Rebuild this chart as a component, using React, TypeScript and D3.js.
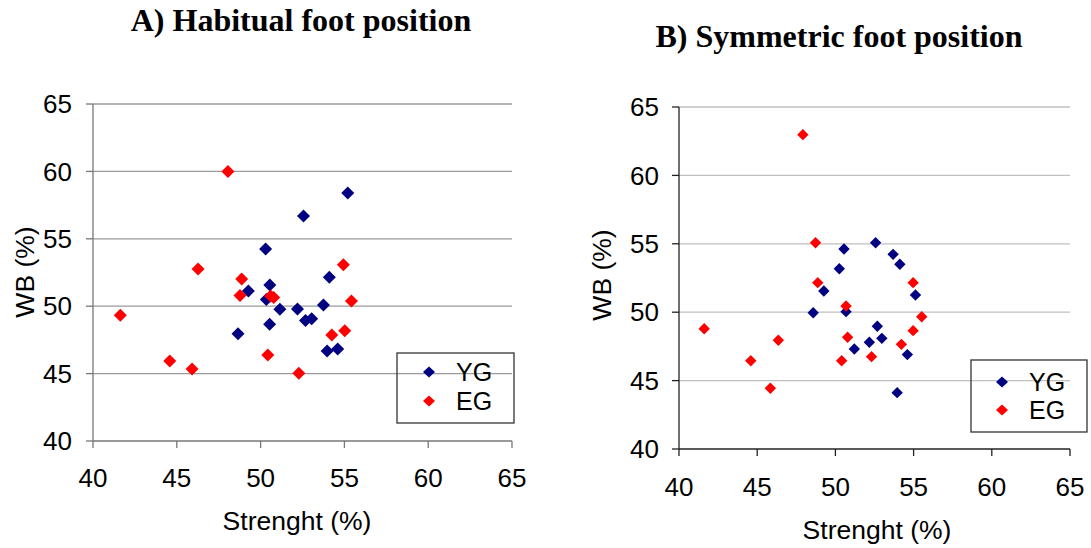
import React from "react";
import * as d3 from "d3";

// ---- Data ----
const xTicks = [40, 45, 50, 55, 60, 65];
const yTicks = [40, 45, 50, 55, 60, 65];
const seriesNames = ["YG", "EG"];
const seriesColors = ["#000080", "#FF0000"];

const habitualYG: [number, number][] = [
  [55.2, 58.4], [52.56, 56.7], [50.3, 54.24], [54.1, 52.14], [50.55, 51.57],
  [49.27, 51.13], [50.34, 50.5], [51.15, 49.77], [52.2, 49.79], [52.68, 48.93],
  [53.05, 49.07], [53.75, 50.09], [50.54, 48.66], [48.65, 47.95], [53.97, 46.68],
  [54.6, 46.82],
];
const habitualEG: [number, number][] = [
  [48.05, 60.0], [46.27, 52.76], [54.94, 53.08], [48.87, 52.02], [48.77, 50.8],
  [50.6, 50.75], [50.78, 50.65], [55.42, 50.39], [54.25, 47.86], [55.02, 48.18],
  [50.43, 46.38], [44.58, 45.93], [45.91, 45.34], [52.28, 45.02], [41.63, 49.32],
];
const symmetricYG: [number, number][] = [
  [50.55, 54.62], [50.25, 53.18], [52.57, 55.08], [53.69, 54.23], [54.12, 53.5],
  [49.26, 51.55], [55.12, 51.26], [48.58, 49.96], [50.68, 50.04], [51.21, 47.31],
  [52.17, 47.8], [52.68, 48.97], [52.97, 48.09], [54.6, 46.9], [53.95, 44.12],
];
const symmetricEG: [number, number][] = [
  [47.92, 62.98], [48.73, 55.08], [48.87, 52.16], [54.97, 52.16], [50.68, 50.45],
  [55.52, 49.67], [41.61, 48.79], [46.35, 47.95], [44.59, 46.45], [45.84, 44.44],
  [50.78, 48.17], [50.4, 46.45], [52.31, 46.75], [54.22, 47.65], [54.97, 48.65],
];

const titles = ["A) Habitual foot position", "B) Symmetric foot position"];
const xTitle = "Strenght (%)";
const yTitle = "WB (%)";

type PanelCfg = {
  title: string;
  titleX: number;
  titleY: number;
  left: number;
  right: number;
  top: number;
  bottom: number;
  series: [number, number][][];
  gridColor: string;
  axisColor: string;
  tickLen: number;
  yLabelX: number;
  xLabelY: number;
  xTitleX: number;
  xTitleY: number;
  yTitleX: number;
  yTitleY: number;
  marker: number;
  legend: { x: number; y: number; w: number; h: number; mx: number; tx: number; y1: number; y2: number };
};

const diamond = (x: number, y: number, h: number, v: number = h) =>
  `M${x},${y - v}L${x + h},${y}L${x},${y + v}L${x - h},${y}Z`;

const sans = "'Liberation Sans', Arial, sans-serif";
const serif = "'Liberation Serif', 'Times New Roman', serif";

function Panel({ cfg }: { cfg: PanelCfg }) {
  const x = d3.scaleLinear().domain([40, 65]).range([cfg.left, cfg.right]);
  const y = d3.scaleLinear().domain([40, 65]).range([cfg.bottom, cfg.top]);
  const L = cfg.legend;
  return (
    <g>
      <text x={cfg.titleX} y={cfg.titleY} textAnchor="middle" fontFamily={serif} fontWeight="bold" fontSize={32}>
        {cfg.title}
      </text>
      {yTicks.slice(1).map((t) => (
        <line key={"g" + t} x1={x(40)} x2={x(65)} y1={y(t)} y2={y(t)} stroke={cfg.gridColor} strokeWidth={1.3} />
      ))}
      {/* axes */}
      <line x1={x(40)} x2={x(40)} y1={y(40)} y2={y(65)} stroke={cfg.axisColor} strokeWidth={1.3} />
      <line x1={x(40)} x2={x(65)} y1={y(40)} y2={y(40)} stroke={cfg.axisColor} strokeWidth={1.3} />
      {yTicks.map((t) => (
        <g key={"y" + t}>
          <line x1={x(40) - cfg.tickLen} x2={x(40)} y1={y(t)} y2={y(t)} stroke={cfg.axisColor} strokeWidth={1.3} />
          <text x={cfg.yLabelX} y={y(t)} dy="0.35em" textAnchor="end" fontFamily={sans} fontSize={26}>
            {t}
          </text>
        </g>
      ))}
      {xTicks.map((t) => (
        <g key={"x" + t}>
          <line x1={x(t)} x2={x(t)} y1={y(40)} y2={y(40) + cfg.tickLen} stroke={cfg.axisColor} strokeWidth={1.3} />
          <text x={x(t)} y={cfg.xLabelY} dy="0.35em" textAnchor="middle" fontFamily={sans} fontSize={26}>
            {t}
          </text>
        </g>
      ))}
      <text x={cfg.xTitleX} y={cfg.xTitleY} textAnchor="middle" fontFamily={sans} fontSize={26.5}>
        {xTitle}
      </text>
      <text
        transform={`translate(${cfg.yTitleX},${cfg.yTitleY}) rotate(-90)`}
        dy="0.35em"
        textAnchor="middle"
        fontFamily={sans}
        fontSize={26.5}
      >
        {yTitle}
      </text>
      {cfg.series.map((pts, si) =>
        pts.map((p, i) => (
          <path key={si + "-" + i} d={diamond(x(p[0]), y(p[1]), cfg.marker)} fill={seriesColors[si]} />
        ))
      )}
      {/* legend */}
      <rect x={L.x} y={L.y} width={L.w} height={L.h} fill="none" stroke="#333" strokeWidth={1.3} />
      {seriesNames.map((n, i) => {
        const ly = i === 0 ? L.y1 : L.y2;
        return (
          <g key={n}>
            <path d={diamond(L.mx, ly, 6, 5.5)} fill={seriesColors[i]} />
            <text x={L.tx} y={ly} dy="0.35em" fontFamily={sans} fontSize={25}>
              {n}
            </text>
          </g>
        );
      })}
    </g>
  );
}

const panelA: PanelCfg = {
  title: titles[0],
  titleX: 301,
  titleY: 31,
  left: 93,
  right: 512,
  top: 104,
  bottom: 441,
  series: [habitualYG, habitualEG],
  gridColor: "#9a9a9a",
  axisColor: "#777",
  tickLen: 7,
  yLabelX: 72,
  xLabelY: 478,
  xTitleX: 297,
  xTitleY: 530,
  yTitleX: 25,
  yTitleY: 272,
  marker: 6.5,
  legend: { x: 397, y: 353, w: 117, h: 70, mx: 429, tx: 456, y1: 372, y2: 401 },
};

const panelB: PanelCfg = {
  title: titles[1],
  titleX: 839,
  titleY: 47,
  left: 679,
  right: 1070,
  top: 107,
  bottom: 449,
  series: [symmetricYG, symmetricEG],
  gridColor: "#c0c0c0",
  axisColor: "#222",
  tickLen: 7,
  yLabelX: 659,
  xLabelY: 487,
  xTitleX: 877,
  xTitleY: 539,
  yTitleX: 602,
  yTitleY: 275,
  marker: 5.7,
  legend: { x: 971, y: 360, w: 116, h: 72, mx: 1002, tx: 1029, y1: 382, y2: 410 },
};

export default function App() {
  return (
    <svg
      width={1091}
      height={548}
      style={{ position: "absolute", left: 0, top: 0, background: "#fff" }}
    >
      <rect width={1091} height={548} fill="#fff" />
      <Panel cfg={panelA} />
      <Panel cfg={panelB} />
    </svg>
  );
}
